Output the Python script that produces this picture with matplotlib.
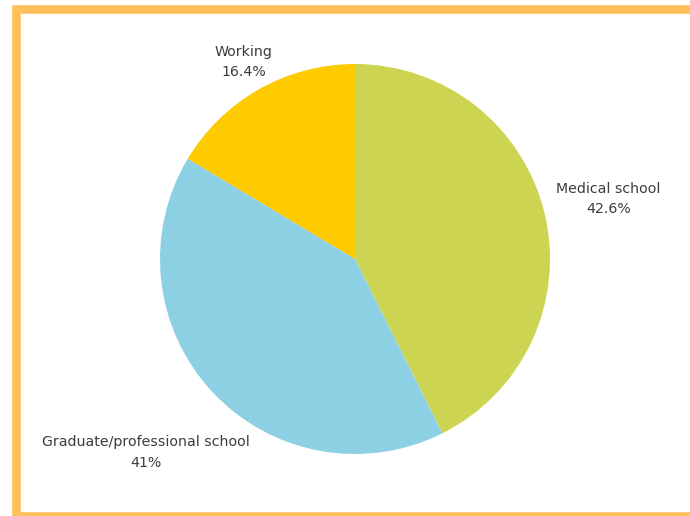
import numpy as np
import matplotlib.pyplot as plt
from matplotlib.patches import Rectangle

# Shares of graduates by what they do next
labels = ["Medical school", "Graduate/professional school", "Working"]
shares = [42.6, 41.0, 16.4]
share_text = ["42.6%", "41%", "16.4%"]
colors = ["#CDD452", "#8DD0E3", "#FDCB00"]
label_dist = [1.335, 1.46, 1.16]

fig = plt.figure(figsize=(6.9, 5.16), dpi=100)
fig.patch.set_facecolor("white")

# orange frame around the chart
frame = Rectangle((16 / 690, 0.0), 1.2, (516 - 8.5) / 516,
                  transform=fig.transFigure, fill=False,
                  edgecolor="#FFC05A", linewidth=6.2, clip_on=False)
fig.patches.append(frame)

r_px = 195
cx, cy = 355, 516 - 259
ax = fig.add_axes([(cx - r_px) / 690, (cy - r_px) / 516, 2 * r_px / 690, 2 * r_px / 516])

wedges, _ = ax.pie(shares, colors=colors, startangle=90, counterclock=False,
                   radius=1.0, wedgeprops=dict(linewidth=0))
ax.set_xlim(-1, 1)
ax.set_ylim(-1, 1)
ax.set_aspect("equal")
ax.axis("off")

# labels sit outside the wedges, centred on their mid angle
for w, name, pct, d in zip(wedges, labels, share_text, label_dist):
    ang = np.deg2rad((w.theta1 + w.theta2) / 2)
    ax.text(d * np.cos(ang), d * np.sin(ang), name + "\n" + pct,
            ha="center", va="center", fontsize=10.2, color="#3c3c3c",
            linespacing=1.6, clip_on=False)

fig.savefig("out.png", dpi=100)
